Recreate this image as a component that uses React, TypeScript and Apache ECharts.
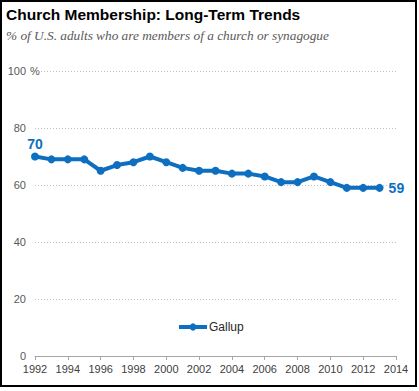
import React, { useEffect, useRef } from "react";
import * as echarts from "echarts";

const years = [1992, 1993, 1994, 1995, 1996, 1997, 1998, 1999, 2000, 2001, 2002, 2003, 2004, 2005, 2006, 2007, 2008, 2009, 2010, 2011, 2012, 2013];
const membership = [70, 69, 69, 69, 65, 67, 68, 70, 68, 66, 65, 65, 64, 64, 63, 61, 61, 63, 61, 59, 59, 59];
const seriesName = "Gallup";
const titleText = "Church Membership: Long-Term Trends";
const subtitleText = "% of U.S. adults who are members of a church or synagogue";

const BLUE = "#0E6FC1";

export default function App() {
  const ref = useRef<HTMLDivElement>(null);
  useEffect(() => {
    document.body.style.margin = "0";
    const chart = echarts.init(ref.current!, null, { renderer: "svg" });
    const last = years.length - 1;
    const data = years.map((y, i) => {
      const item: any = { value: [y, membership[i]] };
      if (i === 0) {
        item.label = { show: true, position: "top", distance: 2, formatter: "{@[1]}" };
      } else if (i === last) {
        item.label = { show: true, position: "right", distance: 5, formatter: "{@[1]}" };
      }
      return item;
    });
    chart.setOption({
      animation: false,
      backgroundColor: "#ffffff",
      grid: { left: 35, right: 23, top: 71, bottom: 35, containLabel: false },
      xAxis: {
        type: "value",
        min: 1992,
        max: 2014,
        interval: 2,
        axisLine: { show: true, lineStyle: { color: "#A6A6A6", width: 1 } },
        axisTick: { show: true, length: 4, lineStyle: { color: "#A6A6A6" } },
        axisLabel: { color: "#404040", fontSize: 11, fontFamily: "Liberation Sans, Arial", margin: 7, formatter: (v: number) => String(v) },
        splitLine: { show: false },
      },
      yAxis: {
        type: "value",
        min: 0,
        max: 100,
        interval: 20,
        axisLine: { show: false },
        axisTick: { show: false },
        axisLabel: { color: "#595959", fontSize: 11, fontFamily: "Liberation Sans, Arial", margin: 9 },
        splitLine: { show: true, lineStyle: { color: "#BFBFBF", type: [1, 2], width: 1 } },
      },
      legend: {
        left: 172,
        top: 316,
        itemWidth: 28,
        itemHeight: 9,
        itemGap: 4,
        lineStyle: { width: 4 },
        textStyle: { color: "#262626", fontSize: 12, fontFamily: "Liberation Sans, Arial", padding: [0, 0, 0, -3] },
        data: [seriesName],
      },
      graphic: [
        { type: "rect", shape: { x: 1, y: 1, width: 415, height: 385 }, style: { fill: "none", stroke: "#000", lineWidth: 2 }, silent: true },
        { type: "text", left: 6, top: 6, style: { text: titleText, font: "bold 15.5px 'Liberation Sans', Arial", fill: "#000" } },
        { type: "text", left: 6, top: 29, style: { text: subtitleText, font: "italic 13.3px 'Liberation Serif', serif", fill: "#595959" } },
        { type: "text", left: 30, top: 65, style: { text: "%", font: "11px 'Liberation Sans', Arial", fill: "#595959" } },
      ],
      series: [
        {
          name: seriesName,
          type: "line",
          data,
          symbol: "circle",
          symbolSize: 8,
          lineStyle: { color: BLUE, width: 4 },
          itemStyle: { color: BLUE },
          label: { color: BLUE, fontSize: 14, fontWeight: "bold", fontFamily: "Liberation Sans, Arial" },
        },
      ],
    });
    return () => chart.dispose();
  }, []);
  return <div ref={ref} style={{ width: 419, height: 391 }} />;
}
